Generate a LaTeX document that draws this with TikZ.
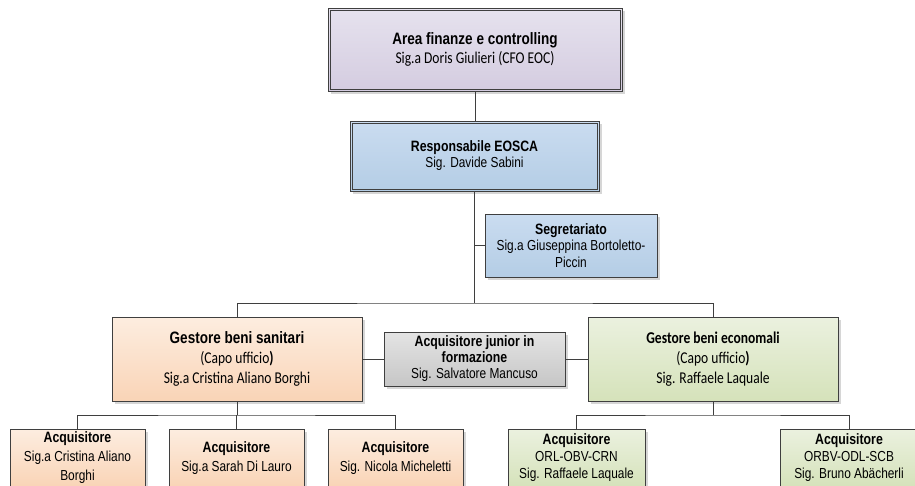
\documentclass[tikz,border=0pt]{standalone}
\usepackage{fontspec}
\setmainfont{Liberation Sans}[FakeStretch=0.82]
\newfontfamily\calfont{Carlito}[FakeStretch=0.82]
\usetikzlibrary{shadows}
\definecolor{lavT}{HTML}{E6E2EE}
\definecolor{lavB}{HTML}{D4CCE0}
\definecolor{bluT}{HTML}{CADCF0}
\definecolor{bluB}{HTML}{B4CDE5}
\definecolor{orT}{HTML}{FDEDE0}
\definecolor{orB}{HTML}{F9D4B6}
\definecolor{grT}{HTML}{EBF1DF}
\definecolor{grB}{HTML}{D5E2BA}
\definecolor{gyT}{HTML}{E4E4E4}
\definecolor{gyB}{HTML}{C6C6C6}
\definecolor{edge}{HTML}{3F3F3F}
\tikzset{
  orgbox/.style={draw=edge, line width=0.9pt, inner sep=0pt, align=center,
    drop shadow={shadow xshift=2.5pt, shadow yshift=-2.5pt, fill=black!16, opacity=1}},
  lav/.style={top color=lavT, bottom color=lavB},
  blu/.style={top color=bluT, bottom color=bluB},
  ora/.style={top color=orT, bottom color=orB},
  gre/.style={top color=grT, bottom color=grB},
  gry/.style={top color=gyT, bottom color=gyB},
  conn/.style={draw=edge, line width=0.9pt},
  inner/.style={draw=edge, line width=0.7pt}
}
\newcommand{\bb}[2]{{\fontsize{#1}{#1}\selectfont\bfseries #2}}
\newcommand{\cb}[2]{{\calfont\fontsize{#1}{#1}\selectfont #2}}
\begin{document}
\begin{tikzpicture}[x=1pt,y=-1pt]
\useasboundingbox (0,0) rectangle (915,485);
\clip (0,0) rectangle (915,485);
% top levels
\node[orgbox, lav, minimum width=294pt, minimum height=83pt,
  font=\fontsize{16.5}{19}\selectfont] (top) at (475,49.5)
  {\bb{16.5}{Area finanze e controlling}\\
   \cb{16.5}{Sig.a Doris Giulieri (CFO EOC)}};
\draw[inner] ([shift={(2.5pt,-2.5pt)}]top.north west) rectangle ([shift={(-2.5pt,2.5pt)}]top.south east);
\node[orgbox, blu, minimum width=249pt, minimum height=70pt,
  font=\fontsize{14.5}{16}\selectfont] (resp) at (474.5,156)
  {\bb{15}{Responsabile EOSCA}\\ Sig. Davide Sabini};
\draw[inner] ([shift={(2.5pt,-2.5pt)}]resp.north west) rectangle ([shift={(-2.5pt,2.5pt)}]resp.south east);
\node[orgbox, blu, minimum width=172pt, minimum height=63pt,
  font=\fontsize{14.5}{16.5}\selectfont] (seg) at (571,245.5)
  {\bb{15}{Segretariato}\\ Sig.a Giuseppina Bortoletto-\\ Piccin};
% middle row
\node[orgbox, ora, minimum width=250pt, minimum height=84pt,
  font=\fontsize{16.5}{20}\selectfont] (san) at (237,359)
  {\bb{16.5}{Gestore beni sanitari}\\
   \cb{16.5}{(Capo ufficio\textbf{)}}\\
   \cb{16.5}{Sig.a Cristina Aliano Borghi}};
\node[orgbox, gry, minimum width=181pt, minimum height=54pt,
  font=\fontsize{14.5}{16}\selectfont] (jun) at (474.5,359)
  {\bb{15}{Acquisitore junior in}\\ \bb{15}{formazione}\\ Sig. Salvatore Mancuso};
\node[orgbox, gre, minimum width=250pt, minimum height=84pt,
  font=\fontsize{16.5}{20}\selectfont] (eco) at (713,359)
  {\cb{16.5}{\bfseries Gestore beni economali}\\
   \cb{16.5}{(Capo ufficio\textbf{)}}\\
   \cb{16.5}{Sig. Raffaele Laquale}};
% bottom row
\node[orgbox, ora, minimum width=135pt, minimum height=58pt,
  font=\fontsize{14.5}{19}\selectfont] (a1) at (77.5,458)
  {\bb{15}{Acquisitore}\\ Sig.a Cristina Aliano\\ Borghi};
\node[orgbox, ora, minimum width=135pt, minimum height=58pt,
  font=\fontsize{14.5}{19}\selectfont] (a2) at (236.5,458)
  {\bb{15}{Acquisitore}\\ Sig.a Sarah Di Lauro};
\node[orgbox, ora, minimum width=135pt, minimum height=58pt,
  font=\fontsize{14.5}{19}\selectfont] (a3) at (395.5,458)
  {\bb{15}{Acquisitore}\\ Sig. Nicola Micheletti};
\node[orgbox, gre, minimum width=137pt, minimum height=58pt,
  font=\fontsize{14.5}{17}\selectfont] (b1) at (576.5,458)
  {\bb{15}{Acquisitore}\\ ORL-OBV-CRN\\ Sig. Raffaele Laquale};
\node[orgbox, gre, minimum width=137pt, minimum height=58pt,
  font=\fontsize{14.5}{17}\selectfont] (b2) at (849,458)
  {\bb{15}{Acquisitore}\\ ORBV-ODL-SCB\\ Sig. Bruno Abächerli};
% connectors
\draw[conn] (top.south) -- (top.south |- resp.north);
\coordinate (bus) at (474.5,303);
\draw[conn] (resp.south) -- (bus);
\draw[conn] (seg.west) -- (seg.west -| bus);
\draw[conn] (san.north) |- (bus) -| (eco.north);
\draw[conn] (san.east) -- (jun.west);
\draw[conn] (jun.east) -- (eco.west);
\coordinate (lbus) at (237,415);
\draw[conn] (san.south) -- (lbus);
\draw[conn] (a1.north) |- (lbus) -| (a3.north);
\draw[conn] (a2.north) -- (a2.north |- lbus);
\coordinate (rbus) at (713,415);
\draw[conn] (eco.south) -- (rbus);
\draw[conn] (b1.north) |- (rbus) -| (b2.north);
\end{tikzpicture}
\end{document}
